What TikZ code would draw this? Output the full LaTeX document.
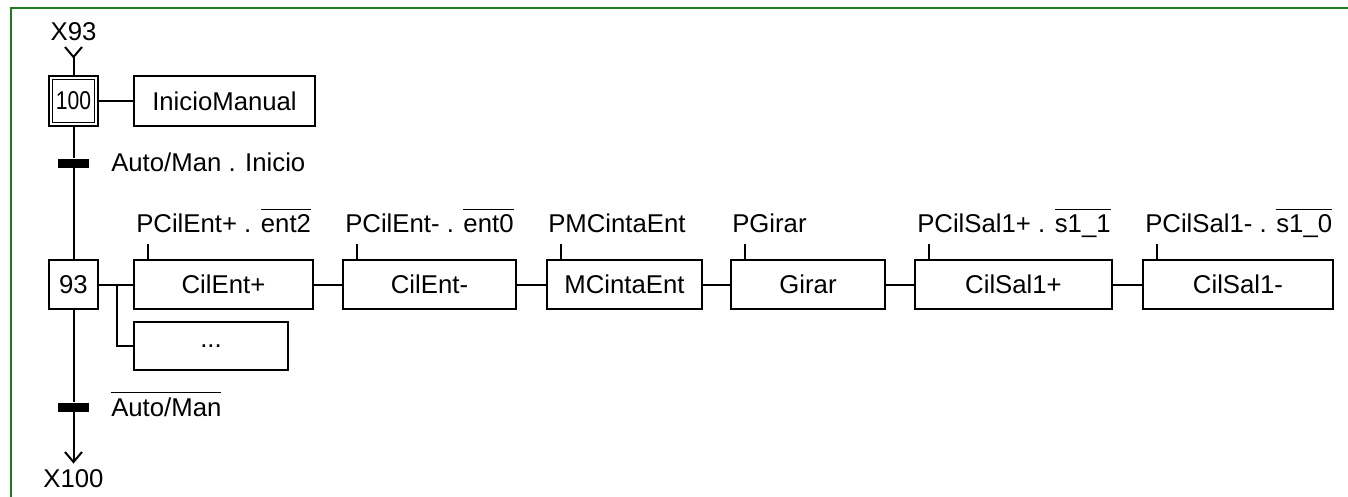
\documentclass[tikz,border=0pt]{standalone}
\usepackage{fontspec}
\setmainfont{Liberation Sans}
\usetikzlibrary{positioning}
\definecolor{framegreen}{RGB}{30,122,30}
% text with a bar over it (negated signal)
\newcommand\ovl[1]{\leavevmode\vbox{\hrule height 1.1pt\kern 3pt\hbox{#1}}}
\tikzset{
  wire/.style={line width=1.5pt, black},
  stepbox/.style={draw, line width=1.5pt, minimum width=36.75pt, minimum height=36.75pt, inner sep=0pt},
  actbox/.style={draw, line width=1.5pt, minimum height=36.75pt, inner sep=0pt},
  trbar/.style={fill=black, draw=none, minimum width=23.25pt, minimum height=6.75pt, inner sep=0pt},
  lbl/.style={anchor=base west, inner sep=0pt},
  reflbl/.style={anchor=base, inner sep=0pt},
}
\begin{document}
\begin{tikzpicture}[x=0.75pt, y=-0.75pt, font=\fontsize{19.3}{23}\selectfont]
\useasboundingbox (0,0) rectangle (1348,496);

% frame
\draw[framegreen, line width=1.8pt] (11,500) -- (11,8) -- (1352,8);

% initial step 100
\node[stepbox, minimum height=37.5pt] (s100) at (73.5,101) {\scalebox{0.82}[1]{100}};
\draw[line width=0.9pt] ([shift={(3.4pt,-3.4pt)}]s100.north west) rectangle ([shift={(-3.4pt,3.4pt)}]s100.south east);
\node[actbox, minimum width=135.75pt, minimum height=37.5pt] (inicio) at (224.5,101) {InicioManual};
\draw[wire] (s100.east) -- (inicio.west);

% entry from X93
\node[reflbl] (x93) at (73.5,40) {X93};
\coordinate (intip) at (73.5,57);
\draw[wire] (65,47) -- (intip) -- (82,47);
\draw[wire] (intip) -- (s100.north);

% transition 100 -> 93
\node[trbar] (t1) at (73.5,163) {};
\node[lbl] (c1) at (111,171) {Auto/Man . Inicio};
\draw[wire] (s100.south) -- (t1.north);

% step 93 and its actions
\node[stepbox] (s93) at (73.5,284.5) {93};
\draw[wire] (t1.south) -- (s93.north);

\node[actbox, minimum width=134.25pt] (a1) at (223.5,284.5) {CilEnt+};
\node[actbox, minimum width=129.75pt] (a2) at (429.5,284.5) {CilEnt-};
\node[actbox, minimum width=116.25pt] (a3) at (624.5,284.5) {MCintaEnt};
\node[actbox, minimum width=115.5pt]  (a4) at (808,284.5) {Girar};
\node[actbox, minimum width=147.75pt] (a5) at (1013.5,284.5) {CilSal1+};
\node[actbox, minimum width=142.5pt]  (a6) at (1238,284.5) {CilSal1-};
\node[actbox, minimum width=115.5pt, minimum height=36pt] (a7) at (211,346) {...};

\draw[wire] (s93.east) -- (a1.west);
\coordinate (br) at (117,284.5);
\draw[wire] (br) |- (a7.west);
\draw[wire] (a1.east) -- (a2.west);
\draw[wire] (a2.east) -- (a3.west);
\draw[wire] (a3.east) -- (a4.west);
\draw[wire] (a4.east) -- (a5.west);
\draw[wire] (a5.east) -- (a6.west);

% action conditions
\foreach \b in {a1,a2,a3,a4,a5,a6}
  \draw[wire] ([xshift=11.25pt]\b.north west) -- ++(0,-15);
\node[lbl] (p1) at (136,232) {PCilEnt+ . \ovl{ent2}};
\node[lbl] (p2) at (345,232) {PCilEnt- . \ovl{ent0}};
\node[lbl] (p3) at (548,232) {PMCintaEnt};
\node[lbl] (p4) at (732,232) {PGirar};
\node[lbl] (p5) at (917,232) {PCilSal1+ . \ovl{s1\_1}};
\node[lbl] (p6) at (1145,232) {PCilSal1- . \ovl{s1\_0}};

% transition 93 -> 100
\node[trbar] (t2) at (73.5,407) {};
\node[lbl] (c2) at (111,416) {\ovl{Auto/Man}};
\draw[wire] (s93.south) -- (t2.north);
\coordinate (outtip) at (73.5,462);
\draw[wire] (t2.south) -- (outtip);
\draw[wire] (65,452) -- (outtip) -- (82,452);
\node[reflbl] (x100) at (73.5,487) {X100};
\end{tikzpicture}
\end{document}
